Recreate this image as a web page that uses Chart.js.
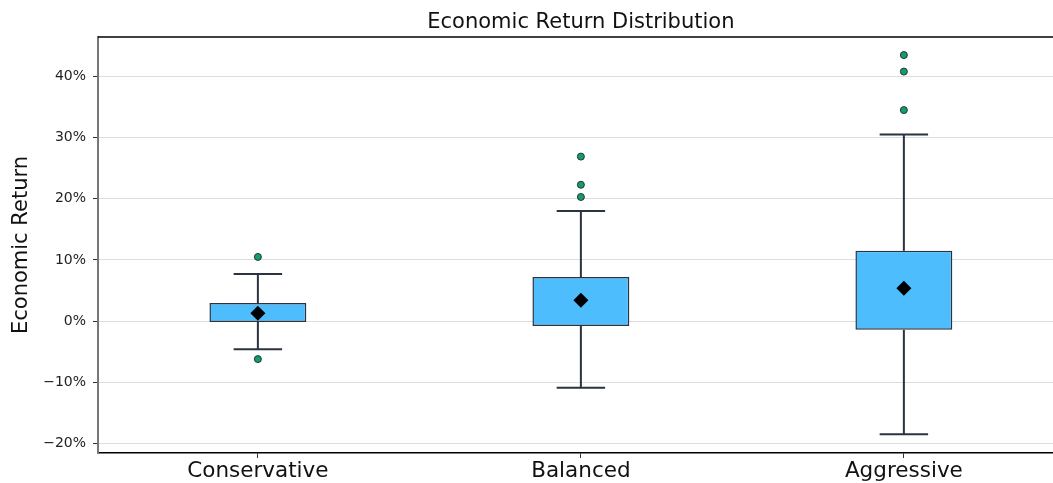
<!DOCTYPE html>
<html>
<head>
<meta charset="utf-8">
<script src="https://cdn.jsdelivr.net/npm/chart.js@4.4.1/dist/chart.umd.min.js"></script>
<style>
  html, body { margin: 0; padding: 0; background: #fff; overflow: hidden; }
  canvas { display: block; }
</style>
</head>
<body>
<canvas id="c" width="1053" height="483"></canvas>
<script>
// Portfolio return distributions (values in %)
const categories  = ['Conservative', 'Balanced', 'Aggressive'];
const q1          = [-0.15, -0.8, -1.4];
const q3          = [2.95, 7.2, 11.5];
const whiskerLow  = [-4.6, -10.9, -18.5];
const whiskerHigh = [7.7, 18.0, 30.5];
const means       = [1.3, 3.4, 5.4];
const outliers    = [
  [10.5, -6.2],
  [26.9, 22.3, 20.3],
  [43.5, 40.8, 34.5]
];
const yTicks = [-20, -10, 0, 10, 20, 30, 40];
const chartTitle = 'Economic Return Distribution';

const FONT = "'DejaVu Sans', sans-serif";
const INK = '#2b3340';
const CAP_HALF = 0.075;

// Whisker stems and caps, one short line dataset per segment
const whiskerSets = [];
categories.forEach((c, i) => {
  const x = i + 1;
  const segs = [
    [{x: x, y: q3[i]}, {x: x, y: whiskerHigh[i]}],
    [{x: x, y: q1[i]}, {x: x, y: whiskerLow[i]}],
    [{x: x - CAP_HALF, y: whiskerHigh[i]}, {x: x + CAP_HALF, y: whiskerHigh[i]}],
    [{x: x - CAP_HALF, y: whiskerLow[i]}, {x: x + CAP_HALF, y: whiskerLow[i]}]
  ];
  segs.forEach(s => whiskerSets.push({
    type: 'line',
    data: s,
    borderColor: INK,
    borderWidth: 2,
    pointRadius: 0,
    fill: false,
    order: 3
  }));
});

const outlierPoints = [];
outliers.forEach((arr, i) => arr.forEach(v => outlierPoints.push({x: i + 1, y: v})));

// Top spine and a title centred over the middle group
const frame = {
  id: 'frame',
  afterDatasetsDraw(chart) {
    const {ctx, chartArea: a, scales} = chart;
    ctx.save();
    ctx.strokeStyle = '#000';
    ctx.lineWidth = 1.5;
    ctx.beginPath();
    ctx.moveTo(a.left, a.top);
    ctx.lineTo(a.right, a.top);
    ctx.stroke();
    ctx.fillStyle = '#111';
    ctx.font = "21px 'DejaVu Sans', sans-serif";
    ctx.textAlign = 'center';
    ctx.textBaseline = 'middle';
    ctx.fillText(chartTitle, scales.x.getPixelForValue(2), 23);
    ctx.restore();
  }
};

new Chart(document.getElementById('c'), {
  type: 'bar',
  data: {
    datasets: [
      {
        type: 'scatter',
        data: means.map((m, i) => ({x: i + 1, y: m})),
        pointStyle: 'rectRot',
        pointRadius: 7.5,
        backgroundColor: '#000',
        borderColor: '#000',
        borderWidth: 0,
        order: 0
      },
      {
        type: 'scatter',
        data: outlierPoints,
        pointStyle: 'circle',
        pointRadius: 3.5,
        backgroundColor: '#169c6a',
        borderColor: '#1e3b33',
        borderWidth: 1,
        order: 1
      },
      {
        type: 'bar',
        data: categories.map((c, i) => ({x: i + 1, y: [q1[i], q3[i]]})),
        backgroundColor: '#4dbdfd',
        borderColor: INK,
        borderWidth: 1.5,
        borderSkipped: false,
        categoryPercentage: 1,
        barPercentage: 0.3,
        order: 2
      },
      ...whiskerSets
    ]
  },
  options: {
    responsive: false,
    animation: false,
    layout: { autoPadding: false, padding: { left: 0, right: 0, top: 37, bottom: 0 } },
    plugins: {
      legend: { display: false },
      tooltip: { enabled: false },
      title: { display: false }
    },
    scales: {
      x: {
        type: 'linear',
        min: 0.505,
        max: 3.4617,
        offset: false,
        afterFit(s) { s.height = 30; },
        afterBuildTicks(s) { s.ticks = categories.map((c, i) => ({value: i + 1})); },
        ticks: {
          callback: v => categories[Math.round(v) - 1],
          color: '#111',
          font: { family: FONT, size: 21.5 },
          padding: 1,
          maxRotation: 0,
          autoSkip: false
        },
        grid: {
          display: true,
          drawOnChartArea: false,
          drawTicks: true,
          tickLength: 5,
          tickColor: '#333',
          offset: false
        },
        border: { display: true, color: '#000', width: 1.5 }
      },
      y: {
        type: 'linear',
        min: -21.55,
        max: 46.45,
        afterFit(s) { s.width = 98; },
        afterBuildTicks(s) { s.ticks = yTicks.map(v => ({value: v})); },
        ticks: {
          callback: v => (v < 0 ? '\u2212' : '') + Math.abs(v) + '%',
          color: '#222',
          font: { family: FONT, size: 14 },
          padding: 7
        },
        grid: {
          color: '#dddddd',
          lineWidth: 1,
          drawTicks: true,
          tickLength: 5,
          tickColor: '#333'
        },
        border: { display: true, color: '#777', width: 2 },
        title: {
          display: true,
          text: 'Economic Return',
          color: '#111',
          font: { family: FONT, size: 21 },
          padding: { top: 9, bottom: 0 }
        }
      }
    }
  },
  plugins: [frame]
});
</script>
</body>
</html>
